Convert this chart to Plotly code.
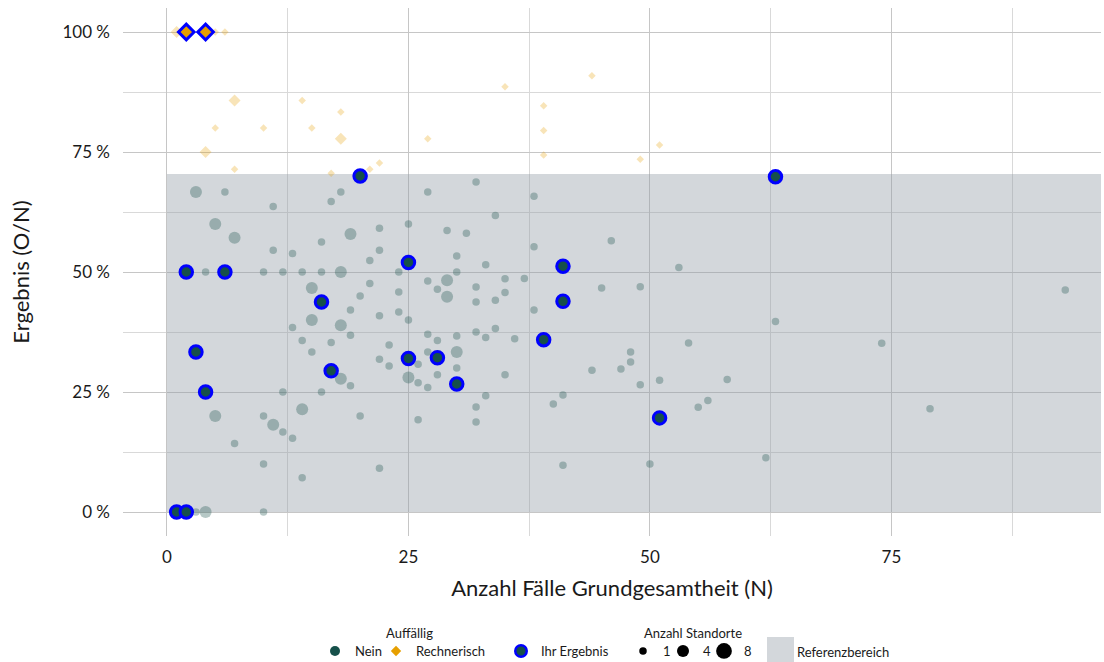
import plotly.graph_objects as go

# Standorte: Fälle der Grundgesamtheit (N), beobachtete Ereignisse (O),
# Anzahl zusammengefasster Standorte und Kennzeichen für das eigene Ergebnis
faelle_n = [
    3, 6, 11, 17, 18, 20, 27, 32, 34, 5, 7, 11, 13, 16, 19, 22, 25, 21, 22, 25,
    29, 31, 30, 33, 2, 4, 6, 10, 12, 14, 16, 18, 24, 30, 15, 16, 21, 20, 24, 27,
    29, 28, 29, 32, 32, 34, 19, 22, 24, 25, 15, 18, 13, 19, 14, 17, 23, 27, 28, 30,
    30, 32, 33, 34, 3, 15, 27, 25, 28, 22, 23, 26, 30, 28, 17, 18, 19, 25, 26, 27,
    30, 33, 4, 12, 16, 5, 10, 14, 11, 12, 13, 20, 32, 32, 26, 7, 10, 14, 22, 1,
    2, 3, 4, 10, 63, 38, 46, 38, 41, 53, 35, 37, 45, 49, 35, 41, 38, 36, 39, 54,
    63, 48, 48, 47, 44, 35, 49, 51, 58, 41, 40, 56, 55, 51, 41, 50, 62, 93, 74, 79,
    1, 2, 4, 5, 6, 7, 5, 10, 14, 18, 15, 18, 4, 7, 17, 21, 22, 27, 35, 39,
    39, 39, 44, 49, 51,
]
ereignisse_o = [
    2, 4, 7, 11, 12, 14, 18, 22, 21, 3, 4, 6, 7, 9, 11, 13, 15, 11, 12, 13,
    17, 18, 16, 17, 1, 2, 3, 5, 6, 7, 8, 9, 12, 15, 7, 7, 10, 9, 11, 13,
    14, 13, 13, 15, 14, 15, 8, 9, 10, 10, 6, 7, 5, 7, 5, 6, 8, 10, 10, 11,
    10, 12, 12, 13, 1, 5, 9, 8, 9, 7, 7, 8, 9, 8, 5, 5, 5, 7, 7, 7,
    8, 8, 1, 3, 4, 1, 2, 3, 2, 2, 2, 4, 7, 6, 5, 1, 1, 1, 2, 0,
    0, 0, 0, 0, 44, 25, 26, 21, 21, 27, 17, 18, 21, 23, 16, 18, 16, 13, 14, 19,
    25, 16, 15, 14, 13, 10, 13, 14, 16, 10, 9, 13, 12, 10, 4, 5, 7, 43, 26, 17,
    1, 2, 4, 5, 6, 6, 4, 8, 12, 15, 12, 14, 3, 5, 12, 15, 16, 21, 31, 33,
    31, 29, 40, 36, 39,
]
standorte = [
    4, 1, 1, 1, 1, 1, 1, 1, 1, 4, 4, 1, 1, 1, 4, 1, 1, 1, 1, 1,
    1, 1, 1, 1, 1, 1, 1, 1, 1, 1, 1, 4, 1, 1, 4, 1, 1, 1, 1, 1,
    4, 1, 4, 1, 1, 1, 1, 1, 1, 1, 4, 4, 1, 1, 1, 1, 1, 1, 1, 1,
    4, 1, 1, 1, 1, 1, 1, 1, 1, 1, 1, 1, 1, 1, 1, 4, 1, 4, 1, 1,
    1, 1, 1, 1, 1, 4, 1, 4, 4, 1, 1, 1, 1, 1, 1, 1, 1, 1, 1, 1,
    1, 1, 4, 1, 1, 1, 1, 1, 1, 1, 1, 1, 1, 1, 1, 1, 1, 1, 1, 1,
    1, 1, 1, 1, 1, 1, 1, 1, 1, 1, 1, 1, 1, 1, 1, 1, 1, 1, 1, 1,
    4, 1, 1, 1, 1, 4, 1, 1, 1, 1, 1, 4, 4, 1, 1, 1, 1, 1, 1, 1,
    1, 1, 1, 1, 1,
]
ihr_ergebnis = [
    0, 0, 0, 0, 0, 1, 0, 0, 0, 0, 0, 0, 0, 0, 0, 0, 0, 0, 0, 1,
    0, 0, 0, 0, 1, 0, 1, 0, 0, 0, 0, 0, 0, 0, 0, 1, 0, 0, 0, 0,
    0, 0, 0, 0, 0, 0, 0, 0, 0, 0, 0, 0, 0, 0, 0, 0, 0, 0, 0, 0,
    0, 0, 0, 0, 1, 0, 0, 1, 1, 0, 0, 0, 0, 0, 1, 0, 0, 0, 0, 0,
    1, 0, 1, 0, 0, 0, 0, 0, 0, 0, 0, 0, 0, 0, 0, 0, 0, 0, 0, 1,
    1, 0, 0, 0, 1, 0, 0, 0, 1, 0, 0, 0, 0, 0, 0, 1, 0, 0, 1, 0,
    0, 0, 0, 0, 0, 0, 0, 0, 0, 0, 0, 0, 0, 1, 0, 0, 0, 0, 0, 0,
    0, 1, 1, 0, 0, 0, 0, 0, 0, 0, 0, 0, 0, 0, 0, 0, 0, 0, 0, 0,
    0, 0, 0, 0, 0,
]

# obere Grenze des Referenzbereichs (in %)
referenzbereich_max = 70.4

# Legende der Punktgrößen
standorte_legende = [1, 4, 8]

# Achsen
x_ticks = [0, 25, 50, 75]
y_ticks = [0, 25, 50, 75, 100]
y_tick_labels = ["0 %", "25 %", "50 %", "75 %", "100 %"]
x_range = [-4.55, 96.7]
y_range = [-5, 105]

TEAL = "#16504a"
ORANGE = "#E69F00"
BLUE = "#0000FF"
REF_FILL = "rgba(145,155,165,0.4)"
TEXT = "#1a1a1a"
FONT = "Lato"

W, H = 1104, 662
M_L, M_R, M_T, M_B = 123, 3, 8, 126
PLOT_W = W - M_L - M_R
PLOT_H = H - M_T - M_B

ergebnis = [100 * o / n for o, n in zip(ereignisse_o, faelle_n)]
auffaellig = [e > referenzbereich_max for e in ergebnis]


def durchmesser(s):
    return 3 + 4.5 * s ** 0.5


def auswahl(werte, bedingung):
    return [w for w, b in zip(werte, bedingung) if b]


def px_x(px):
    """Pixelspalte -> Papierkoordinate"""
    return (px - M_L) / PLOT_W


def px_y(py):
    """Pixelzeile -> Papierkoordinate"""
    return (H - M_B - py) / PLOT_H


fig = go.Figure()

# Referenzbereich als gefüllte Fläche
fig.add_trace(go.Scatter(
    x=[0, x_range[1], x_range[1], 0, 0],
    y=[0, 0, referenzbereich_max, referenzbereich_max, 0],
    fill="toself", mode="lines", line=dict(width=0),
    fillcolor=REF_FILL, showlegend=False, hoverinfo="skip",
))

# übrige Standorte (transparent)
for auff in (False, True):
    maske = [(not i) and (a == auff) for i, a in zip(ihr_ergebnis, auffaellig)]
    xs = auswahl(faelle_n, maske)
    ys = auswahl(ergebnis, maske)
    ss = auswahl(standorte, maske)
    if auff:
        marker = dict(symbol="diamond", size=[durchmesser(s) / 1.3 for s in ss],
                      color="rgba(230,159,0,0.4)", line=dict(width=0))
    else:
        marker = dict(symbol="circle", size=[durchmesser(s) for s in ss],
                      color="rgba(22,80,74,0.45)", line=dict(width=0))
    fig.add_trace(go.Scatter(x=xs, y=ys, mode="markers", showlegend=False,
                             marker=marker))

# eigene Ergebnisse mit blauem Rand
for auff in (False, True):
    maske = [bool(i) and (a == auff) for i, a in zip(ihr_ergebnis, auffaellig)]
    fig.add_trace(go.Scatter(
        x=auswahl(faelle_n, maske), y=auswahl(ergebnis, maske),
        mode="markers", showlegend=False,
        marker=dict(symbol="diamond" if auff else "circle",
                    size=12 if auff else 12.5,
                    color=ORANGE if auff else TEAL,
                    line=dict(color=BLUE, width=3)),
    ))

# Legendeneinträge, jeder in einer eigenen Legende platziert
legend_eintraege = [
    ("Nein", dict(symbol="circle", size=10, color=TEAL), 335),
    ("Rechnerisch", dict(symbol="diamond", size=8, color=ORANGE), 396),
    ("Ihr Ergebnis", dict(symbol="circle", size=11.5, color=TEAL,
                          line=dict(color=BLUE, width=2.5)), 521),
] + [
    (str(s), dict(symbol="circle", size=durchmesser(s), color="black"), px)
    for s, px in zip(standorte_legende, [643, 683, 724])
]

legend_layout = {}
for k, (name, marker, sym_px) in enumerate(legend_eintraege):
    key = "legend" if k == 0 else f"legend{k + 1}"
    fig.add_trace(go.Scatter(x=[None], y=[None], mode="markers", name=name,
                             legend=key, marker=marker))
    legend_layout[key] = dict(
        orientation="h", xref="container", yref="container",
        x=(sym_px - 20) / W, y=1 - 636 / H,
        xanchor="left", yanchor="top", bgcolor="rgba(0,0,0,0)",
        font=dict(family=FONT, size=13, color=TEXT),
        itemclick=False, itemdoubleclick=False,
    )

annotations = [
    dict(text="Auffällig", x=px_x(409), y=px_y(633)),
    dict(text="Anzahl Standorte", x=px_x(693), y=px_y(633)),
]
for a in annotations:
    a.update(xref="paper", yref="paper", showarrow=False,
             xanchor="center", yanchor="middle",
             font=dict(family=FONT, size=13, color=TEXT))
annotations.append(dict(
    text="Referenzbereich", x=px_x(795), y=px_y(652),
    xref="paper", yref="paper", showarrow=False,
    xanchor="left", yanchor="middle",
    font=dict(family=FONT, size=13, color=TEXT),
))

shapes = [dict(
    type="rect", xref="paper", yref="paper",
    x0=px_x(767), x1=px_x(794), y0=px_y(664), y1=px_y(637),
    fillcolor=REF_FILL, line=dict(width=0),
)]

fig.update_layout(
    width=W, height=H,
    margin=dict(l=M_L, r=M_R, t=M_T, b=M_B),
    paper_bgcolor="white", plot_bgcolor="white",
    font=dict(family=FONT, color=TEXT),
    annotations=annotations, shapes=shapes,
    xaxis=dict(
        range=x_range, tickvals=x_ticks, ticks="",
        showgrid=True, gridcolor="#c6c6c6", gridwidth=1.3,
        minor=dict(dtick=12.5, tick0=0, showgrid=True,
                   gridcolor="#d9d9d9", gridwidth=1),
        zeroline=False, showline=False,
        tickfont=dict(family=FONT, size=17, color=TEXT),
        ticklabelstandoff=9,
        title=dict(text="Anzahl Fälle Grundgesamtheit (N)", standoff=14,
                   font=dict(family=FONT, size=22, color=TEXT)),
    ),
    yaxis=dict(
        range=y_range, tickvals=y_ticks, ticktext=y_tick_labels, ticks="",
        showgrid=True, gridcolor="#c6c6c6", gridwidth=1.3,
        minor=dict(dtick=12.5, tick0=0, showgrid=True,
                   gridcolor="#d9d9d9", gridwidth=1),
        zeroline=False, showline=False,
        tickfont=dict(family=FONT, size=17, color=TEXT),
        ticklabelstandoff=12,
        title=dict(text="Ergebnis (O/N)", standoff=26,
                   font=dict(family=FONT, size=22, color=TEXT)),
    ),
    **legend_layout,
)

fig.write_html("out.html")
